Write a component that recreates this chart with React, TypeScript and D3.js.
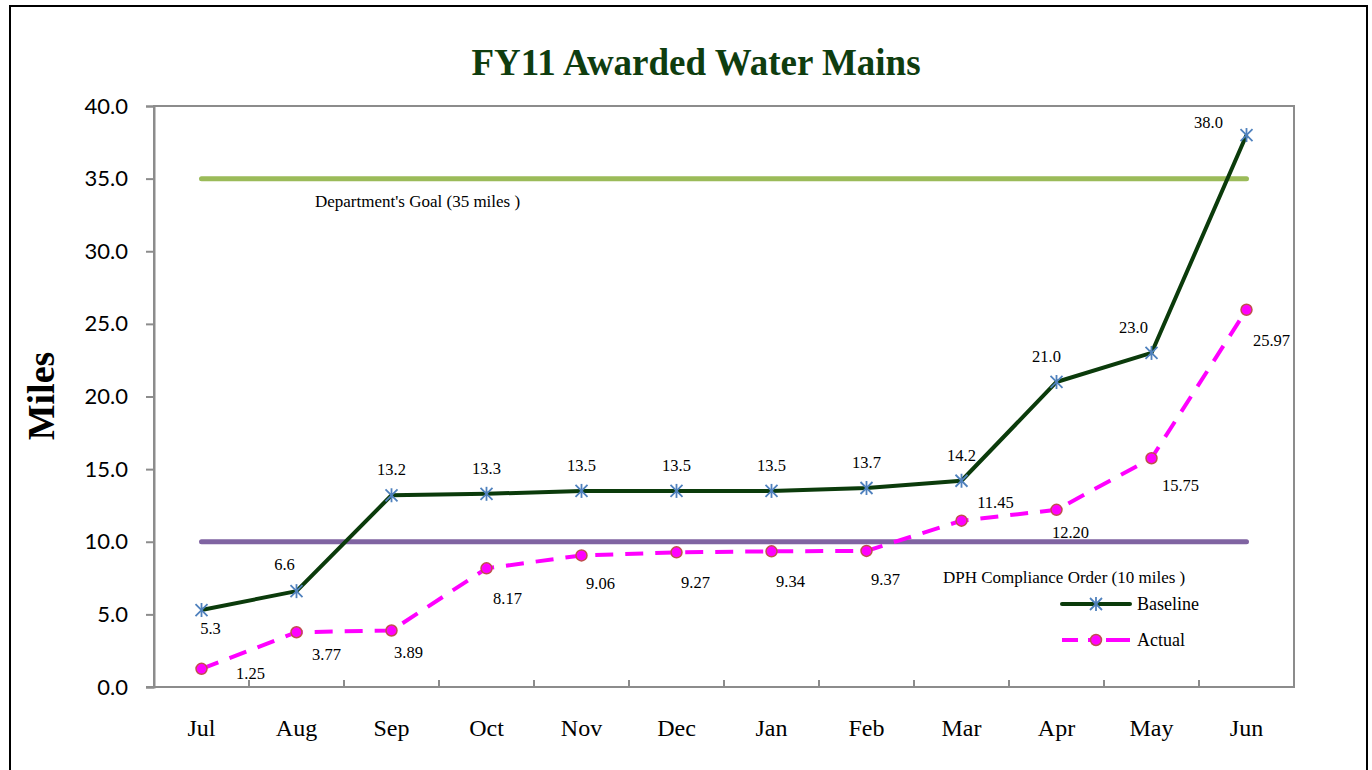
import React, { useEffect, useRef } from "react";
import * as d3 from "d3";

const months = ["Jul", "Aug", "Sep", "Oct", "Nov", "Dec", "Jan", "Feb", "Mar", "Apr", "May", "Jun"];
const baseline = [5.3, 6.6, 13.2, 13.3, 13.5, 13.5, 13.5, 13.7, 14.2, 21.0, 23.0, 38.0];
const actual = [1.25, 3.77, 3.89, 8.17, 9.06, 9.27, 9.34, 9.37, 11.45, 12.2, 15.75, 25.97];
const yTicks = [0, 5, 10, 15, 20, 25, 30, 35, 40];
const goalValue = 35;
const complianceValue = 10;

// label offsets in px (dx, dy) relative to point
const baseLabelOffsets: [number, number][] = [
  [9, 18], [-12, -27], [0, -26], [0, -26], [0, -26], [0, -26], [0, -26], [0, -26], [0, -26], [-10, -26], [-18, -26], [-38, -13],
];
const actualLabelOffsets: [number, number][] = [
  [49, 4], [30, 22], [17, 22], [21, 30], [19, 28], [19, 30], [19, 30], [19, 28], [34, -19], [14, 22], [29, 27], [25, 30],
];

const W = 1372;
const H = 770;
const margin = { left: 154, top: 106, right: 78, bottom: 83 };

export default function App() {
  const ref = useRef<SVGSVGElement>(null);

  useEffect(() => {
    if (!ref.current) return;
    const svg = d3.select(ref.current);
    svg.selectAll("*").remove();

    const x0 = margin.left, x1 = W - margin.right;
    const y0 = H - margin.bottom, y1 = margin.top;

    const x = d3.scaleBand().domain(months).range([x0, x1]);
    const cx = (m: string) => (x(m) || 0) + x.bandwidth() / 2;
    const y = d3.scaleLinear().domain([0, 40]).range([y0, y1]);
    const serif = "'Liberation Serif', 'Times New Roman', serif";

    // outer frame
    svg.append("rect").attr("x", 10).attr("y", 6).attr("width", 1357).attr("height", 780)
      .attr("fill", "white").attr("stroke", "black").attr("stroke-width", 2);

    // title
    svg.append("text").attr("x", 696).attr("y", 75).attr("text-anchor", "middle")
      .attr("font-family", serif).attr("font-weight", "bold")
      .attr("font-size", 37).attr("fill", "#0f3d0f").text("FY11 Awarded Water Mains");

    // plot box
    svg.append("rect").attr("x", x0).attr("y", y1).attr("width", x1 - x0).attr("height", y0 - y1)
      .attr("fill", "none").attr("stroke", "#8c8c8c").attr("stroke-width", 2);

    // y axis
    const yAxis = svg.append("g").attr("transform", `translate(${x0},0)`)
      .call(d3.axisLeft(y).tickValues(yTicks).tickSize(8).tickFormat(d3.format(".1f")));
    yAxis.select(".domain").attr("stroke", "#8c8c8c").attr("stroke-width", 2);
    yAxis.selectAll(".tick line").attr("stroke", "#8c8c8c").attr("stroke-width", 2);
    yAxis.selectAll("text").attr("font-family", "Lato, 'Open Sans', sans-serif").attr("font-size", 22)
      .attr("fill", "#000").attr("x", -26);

    // x axis ticks at category boundaries (inside)
    const bounds = months.slice(1).map(m => x(m) || 0);
    svg.append("g").selectAll("line").data(bounds).enter().append("line")
      .attr("x1", d => d).attr("x2", d => d).attr("y1", y0).attr("y2", y0 - 7)
      .attr("stroke", "#8c8c8c").attr("stroke-width", 2);
    svg.append("line").attr("x1", x0 - 8).attr("x2", x1).attr("y1", y0).attr("y2", y0)
      .attr("stroke", "#8c8c8c").attr("stroke-width", 2);
    svg.append("g").selectAll("text").data(months).enter().append("text")
      .attr("x", d => cx(d)).attr("y", 736).attr("text-anchor", "middle")
      .attr("font-family", serif).attr("font-size", 24).text(d => d);

    // y label
    svg.append("text").attr("transform", "translate(54,396) rotate(-90)").attr("text-anchor", "middle")
      .attr("font-family", serif).attr("font-weight", "bold").attr("font-size", 38)
      .text("Miles");

    const first = cx(months[0]), last = cx(months[months.length - 1]);
    // reference lines
    svg.append("line").attr("x1", first).attr("x2", last).attr("y1", y(goalValue)).attr("y2", y(goalValue))
      .attr("stroke", "#9bbb59").attr("stroke-width", 5).attr("stroke-linecap", "round");
    svg.append("line").attr("x1", first).attr("x2", last).attr("y1", y(complianceValue)).attr("y2", y(complianceValue))
      .attr("stroke", "#8064a2").attr("stroke-width", 5).attr("stroke-linecap", "round");

    svg.append("text").attr("x", 315).attr("y", y(goalValue) + 28).attr("font-family", serif).attr("font-size", 17)
      .text("Department's Goal (35 miles )");
    svg.append("text").attr("x", 943).attr("y", y(complianceValue) + 41).attr("font-family", serif).attr("font-size", 17)
      .text("DPH Compliance Order (10 miles )");

    const line = d3.line<number>().x((_, i) => cx(months[i])).y(d => y(d));

    // actual
    svg.append("path").attr("d", line(actual)).attr("fill", "none").attr("stroke", "#ff00ff")
      .attr("stroke-width", 4).attr("stroke-dasharray", "18,12");
    // baseline
    svg.append("path").attr("d", line(baseline)).attr("fill", "none").attr("stroke", "#0b3b0b")
      .attr("stroke-width", 4).attr("stroke-linejoin", "round");

    const star = (g: d3.Selection<SVGGElement, unknown, null, undefined>, px: number, py: number) => {
      const s = 6;
      g.append("line").attr("x1", px - s).attr("x2", px + s).attr("y1", py - s).attr("y2", py + s);
      g.append("line").attr("x1", px - s).attr("x2", px + s).attr("y1", py + s).attr("y2", py - s);
      g.append("line").attr("x1", px).attr("x2", px).attr("y1", py - s - 1).attr("y2", py + s + 1);
      g.attr("stroke", "#4f81bd").attr("stroke-width", 1.8);
    };

    baseline.forEach((v, i) => {
      star(svg.append("g") as any, cx(months[i]), y(v));
    });
    svg.append("g").selectAll("circle").data(actual).enter().append("circle")
      .attr("cx", (_, i) => cx(months[i])).attr("cy", d => y(d)).attr("r", 5.5)
      .attr("fill", "#ff00ff").attr("stroke", "#c0504d").attr("stroke-width", 1.5);

    // data labels
    svg.append("g").selectAll("text").data(baseline).enter().append("text")
      .attr("x", (_, i) => cx(months[i]) + baseLabelOffsets[i][0])
      .attr("y", (d, i) => y(d) + baseLabelOffsets[i][1] + 6)
      .attr("text-anchor", "middle").attr("font-family", serif).attr("font-size", 16.5)
      .text(d => d3.format(".1f")(d));
    svg.append("g").selectAll("text").data(actual).enter().append("text")
      .attr("x", (_, i) => cx(months[i]) + actualLabelOffsets[i][0])
      .attr("y", (d, i) => y(d) + actualLabelOffsets[i][1] + 6)
      .attr("text-anchor", "middle").attr("font-family", serif).attr("font-size", 16.5)
      .text(d => d3.format(".2f")(d));

    // legend
    const lg = svg.append("g");
    lg.append("line").attr("x1", 1062).attr("x2", 1130).attr("y1", 604).attr("y2", 604)
      .attr("stroke", "#0b3b0b").attr("stroke-width", 4).attr("stroke-linecap", "round");
    star(lg.append("g") as any, 1096, 604);
    lg.append("text").attr("x", 1137).attr("y", 610).attr("font-family", serif).attr("font-size", 18).text("Baseline");
    lg.append("line").attr("x1", 1062).attr("x2", 1130).attr("y1", 640).attr("y2", 640)
      .attr("stroke", "#ff00ff").attr("stroke-width", 4).attr("stroke-dasharray", "16,10,8,10,12,0");
    lg.append("circle").attr("cx", 1096).attr("cy", 640).attr("r", 5.5)
      .attr("fill", "#ff00ff").attr("stroke", "#c0504d").attr("stroke-width", 1.5);
    lg.append("text").attr("x", 1137).attr("y", 646).attr("font-family", serif).attr("font-size", 18).text("Actual");
  }, []);

  return (
    <div style={{ position: "absolute", left: 0, top: 0, width: W, height: H, overflow: "hidden", background: "white" }}>
      <svg ref={ref} width={W} height={H} />
    </div>
  );
}
